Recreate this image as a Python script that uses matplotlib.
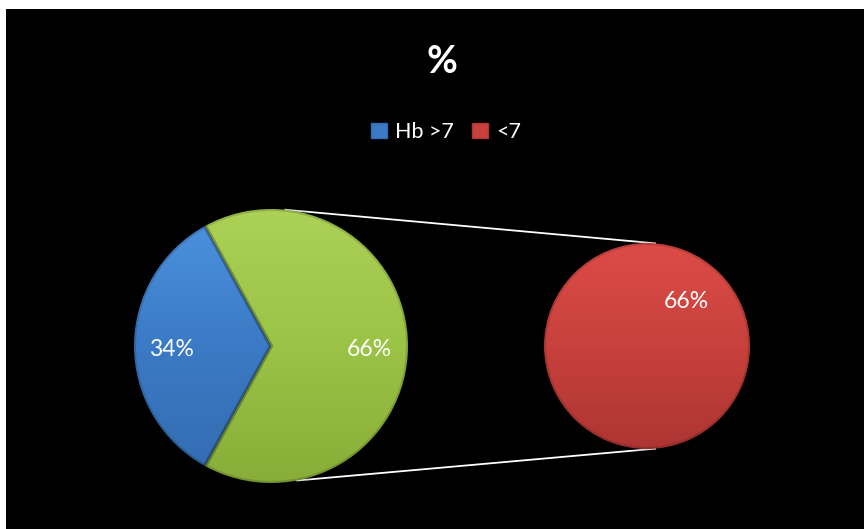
import numpy as np
import matplotlib
matplotlib.use("Agg")
import matplotlib.pyplot as plt
from matplotlib.colors import LinearSegmentedColormap
from matplotlib.patches import Rectangle, Patch

plt.rcParams['font.family'] = ['Lato', 'DejaVu Sans']

# Data
title = "%"
categories = ["Hb >7", "<7"]
main_values = [34, 66]          # main pie: Hb >7 vs. the split-out group
split_values = [66]             # secondary pie: <7
main_labels = ["34%", "66%"]
split_labels = ["66%"]

W, H = 864, 529
fig = plt.figure(figsize=(W / 100, H / 100), dpi=100, facecolor="white")
ax = fig.add_axes([0, 0, 1, 1])
ax.set_facecolor("white")
ax.axis("off")

# black chart area
ax.add_patch(Rectangle((6, 0), W - 6, H - 9, facecolor="black", edgecolor="none", zorder=0))

blue = ("#4d93e0", "#3b7ac4", "#336bb0")
green = ("#abd156", "#9bc346", "#88ad38")
red = ("#dc4b47", "#c8413c", "#ad3532")


def shade(wedge, cols, cx, cy, r):
    cmap = LinearSegmentedColormap.from_list("g", [cols[2], cols[1], cols[0]])
    grad = np.linspace(0, 1, 256).reshape(-1, 1)
    im = ax.imshow(grad, cmap=cmap, origin="lower", extent=(cx - r, cx + r, cy - r, cy + r),
                   aspect="auto", zorder=2, interpolation="bicubic")
    im.set_clip_path(wedge)
    # soft bevel rim
    wedge.set_edgecolor((0, 0, 0, 0.15))
    wedge.set_linewidth(3)
    wedge.set_zorder(3)
    wedge.set_facecolor("none")


# main pie
c1, r1 = (271, 183), 137
half = main_values[0] / sum(main_values) * 360 / 2
w1, _ = ax.pie(main_values, colors=[blue[1], green[1]], startangle=180 - half,
               counterclock=True, center=c1, radius=r1, frame=True)
for w, cols in zip(w1, [blue, green]):
    shade(w, cols, c1[0], c1[1], r1)

label_r = [0.73, 0.72]
angles = []
start = 180 - half
for v in main_values:
    ang = start + v / sum(main_values) * 180
    angles.append(ang)
    start += v / sum(main_values) * 360
for lab, ang, lr in zip(main_labels, angles, label_r):
    ax.text(c1[0] + lr * r1 * np.cos(np.radians(ang)),
            c1[1] - 4 + lr * r1 * np.sin(np.radians(ang)),
            lab, color="white", fontsize=16.5, ha="center", va="center", zorder=5)

# secondary pie
c2, r2 = (647, 183), 103
w2, _ = ax.pie(split_values, colors=[red[1]], startangle=0, center=c2, radius=r2, frame=True)
shade(w2[0], red, c2[0], c2[1], r2)
ax.text(c2[0] + 39, c2[1] + 45, split_labels[0], color="white", fontsize=16.5,
        ha="center", va="center", zorder=5)

# connector lines
for a1, a2 in [(84, 85.5), (-79, -85.5)]:
    p1 = (c1[0] + r1 * np.cos(np.radians(a1)), c1[1] + r1 * np.sin(np.radians(a1)))
    p2 = (c2[0] + r2 * np.cos(np.radians(a2)), c2[1] + r2 * np.sin(np.radians(a2)))
    ax.plot([p1[0], p2[0]], [p1[1], p2[1]], color="white", lw=1.3, zorder=1)

ax.text(442, H - 62, title, color="white", fontsize=27, fontweight="bold",
        ha="center", va="center", zorder=5)

handles = [Patch(facecolor=blue[1], edgecolor=blue[2]), Patch(facecolor=red[1], edgecolor=red[2])]
leg = ax.legend(handles, categories, loc="center", bbox_to_anchor=(446 / W, 1 - 132 / H),
                ncol=2, frameon=False, fontsize=15.5, handlelength=0.75, handleheight=0.75,
                handletextpad=0.4, columnspacing=0.8, labelcolor="white")

ax.set_xlim(0, W)
ax.set_ylim(0, H)
ax.set_aspect("auto")
fig.savefig("out.png", dpi=100, facecolor="white")
